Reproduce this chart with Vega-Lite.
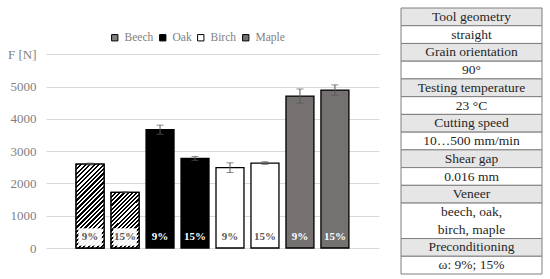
{
  "$schema": "https://vega.github.io/schema/vega-lite/v6.json",
  "padding": {"left": 7, "top": 7, "right": 0, "bottom": 0},
  "background": "white",
  "config": {"view": {"stroke": null}, "font": "Liberation Serif", "concat": {"spacing": 21}},
  "resolve": {"scale": {"fill": "independent", "x": "independent", "y": "independent"}, "legend": {"fill": "independent"}},
  "datasets": {
    "bars": [
      {"bar": "Beech 9%", "species": "Beech", "moisture": "9%", "value": 2600, "err": 30},
      {"bar": "Beech 15%", "species": "Beech", "moisture": "15%", "value": 1725, "err": 15},
      {"bar": "Oak 9%", "species": "Oak", "moisture": "9%", "value": 3665, "err": 140},
      {"bar": "Oak 15%", "species": "Oak", "moisture": "15%", "value": 2777, "err": 60},
      {"bar": "Birch 9%", "species": "Birch", "moisture": "9%", "value": 2489, "err": 150},
      {"bar": "Birch 15%", "species": "Birch", "moisture": "15%", "value": 2632, "err": 40},
      {"bar": "Maple 9%", "species": "Maple", "moisture": "9%", "value": 4706, "err": 220},
      {"bar": "Maple 15%", "species": "Maple", "moisture": "15%", "value": 4892, "err": 160}
    ],
    "table": [
      {"text": "Tool geometry", "kind": "h", "start": 0, "end": 1},
      {"text": "straight", "kind": "v", "start": 1, "end": 2},
      {"text": "Grain orientation", "kind": "h", "start": 2, "end": 3},
      {"text": "90°", "kind": "v", "start": 3, "end": 4},
      {"text": "Testing temperature", "kind": "h", "start": 4, "end": 5},
      {"text": "23 °C", "kind": "v", "start": 5, "end": 6},
      {"text": "Cutting speed", "kind": "h", "start": 6, "end": 7},
      {"text": "10…500 mm/min", "kind": "v", "start": 7, "end": 8},
      {"text": "Shear gap", "kind": "h", "start": 8, "end": 9},
      {"text": "0.016 mm", "kind": "v", "start": 9, "end": 10},
      {"text": "Veneer", "kind": "h", "start": 10, "end": 11},
      {"text": "beech, oak,\nbirch, maple", "kind": "v", "start": 11, "end": 13},
      {"text": "Preconditioning", "kind": "h", "start": 13, "end": 14},
      {"text": "ω: 9%; 15%", "kind": "v", "start": 14, "end": 15}
    ]
  },
  "hconcat": [
    {
      "width": 333,
      "height": 240,
      "data": {"name": "bars"},
      "encoding": {
        "x": {"field": "bar", "type": "nominal", "sort": null, "axis": null,
              "scale": {"paddingInner": 0.2, "paddingOuter": 0.86}},
        "y": {"field": "value", "type": "quantitative",
              "scale": {"domain": [0, 7435], "nice": false},
              "axis": {"values": [0, 1000, 2000, 3000, 4000, 5000, 6000], "format": "d",
                       "labelExpr": "datum.value == 6000 ? 'F [N]' : datum.label",
                       "grid": true, "gridColor": "#d9d9d9", "domain": false, "ticks": false,
                       "labelColor": "#7f7f7f", "labelFontSize": 13, "labelPadding": 10,
                       "labelFont": "Liberation Serif", "title": null}}
      },
      "layer": [
        {
          "mark": {"type": "bar", "stroke": "black", "strokeWidth": 1.3},
          "encoding": {
            "fill": {"field": "species", "type": "nominal",
                     "scale": {"domain": ["Beech", "Oak", "Birch", "Maple"],
                               "range": ["#808080", "#000000", "#ffffff", "#767171"]},
                     "legend": {"orient": "none", "legendX": 63, "legendY": 24, "direction": "horizontal",
                                "title": null, "symbolType": "square", "symbolSize": 40,
                                "symbolStrokeColor": "black", "symbolStrokeWidth": 1,
                                "labelColor": "#7f7f7f", "labelFontSize": 11.5, "labelFont": "Liberation Serif",
                                "columnPadding": 3, "labelOffset": 4, "gridAlign": "none",
                                "encode": {"symbols": {"update": {
                                  "stroke": {"value": "black"},
                                  "strokeWidth": {"value": 1}
                                }}}}}
          }
        },
        {
          "transform": [{"filter": "datum.bar == 'Beech 9%'"}],
          "mark": {"type": "bar", "stroke": "black", "strokeWidth": 1.3,
                   "fill": {"gradient": "linear", "x1": 0, "y1": 0, "x2": 0.4, "y2": 1.2,
                            "stops": [
                              {"offset": 0, "color": "#000"}, {"offset": 0.02, "color": "#000"},
                              {"offset": 0.02, "color": "#fff"}, {"offset": 0.04, "color": "#fff"},
                              {"offset": 0.04, "color": "#000"}, {"offset": 0.06, "color": "#000"},
                              {"offset": 0.06, "color": "#fff"}, {"offset": 0.08, "color": "#fff"},
                              {"offset": 0.08, "color": "#000"}, {"offset": 0.1, "color": "#000"},
                              {"offset": 0.1, "color": "#fff"}, {"offset": 0.12, "color": "#fff"},
                              {"offset": 0.12, "color": "#000"}, {"offset": 0.14, "color": "#000"},
                              {"offset": 0.14, "color": "#fff"}, {"offset": 0.16, "color": "#fff"},
                              {"offset": 0.16, "color": "#000"}, {"offset": 0.18, "color": "#000"},
                              {"offset": 0.18, "color": "#fff"}, {"offset": 0.2, "color": "#fff"},
                              {"offset": 0.2, "color": "#000"}, {"offset": 0.22, "color": "#000"},
                              {"offset": 0.22, "color": "#fff"}, {"offset": 0.24, "color": "#fff"},
                              {"offset": 0.24, "color": "#000"}, {"offset": 0.26, "color": "#000"},
                              {"offset": 0.26, "color": "#fff"}, {"offset": 0.28, "color": "#fff"},
                              {"offset": 0.28, "color": "#000"}, {"offset": 0.3, "color": "#000"},
                              {"offset": 0.3, "color": "#fff"}, {"offset": 0.32, "color": "#fff"},
                              {"offset": 0.32, "color": "#000"}, {"offset": 0.34, "color": "#000"},
                              {"offset": 0.34, "color": "#fff"}, {"offset": 0.36, "color": "#fff"},
                              {"offset": 0.36, "color": "#000"}, {"offset": 0.38, "color": "#000"},
                              {"offset": 0.38, "color": "#fff"}, {"offset": 0.4, "color": "#fff"},
                              {"offset": 0.4, "color": "#000"}, {"offset": 0.42, "color": "#000"},
                              {"offset": 0.42, "color": "#fff"}, {"offset": 0.44, "color": "#fff"},
                              {"offset": 0.44, "color": "#000"}, {"offset": 0.46, "color": "#000"},
                              {"offset": 0.46, "color": "#fff"}, {"offset": 0.48, "color": "#fff"},
                              {"offset": 0.48, "color": "#000"}, {"offset": 0.5, "color": "#000"},
                              {"offset": 0.5, "color": "#fff"}, {"offset": 0.52, "color": "#fff"},
                              {"offset": 0.52, "color": "#000"}, {"offset": 0.54, "color": "#000"},
                              {"offset": 0.54, "color": "#fff"}, {"offset": 0.56, "color": "#fff"},
                              {"offset": 0.56, "color": "#000"}, {"offset": 0.58, "color": "#000"},
                              {"offset": 0.58, "color": "#fff"}, {"offset": 0.6, "color": "#fff"},
                              {"offset": 0.6, "color": "#000"}, {"offset": 0.62, "color": "#000"},
                              {"offset": 0.62, "color": "#fff"}, {"offset": 0.64, "color": "#fff"},
                              {"offset": 0.64, "color": "#000"}, {"offset": 0.66, "color": "#000"},
                              {"offset": 0.66, "color": "#fff"}, {"offset": 0.68, "color": "#fff"},
                              {"offset": 0.68, "color": "#000"}, {"offset": 0.7, "color": "#000"},
                              {"offset": 0.7, "color": "#fff"}, {"offset": 0.72, "color": "#fff"},
                              {"offset": 0.72, "color": "#000"}, {"offset": 0.74, "color": "#000"},
                              {"offset": 0.74, "color": "#fff"}, {"offset": 0.76, "color": "#fff"},
                              {"offset": 0.76, "color": "#000"}, {"offset": 0.78, "color": "#000"},
                              {"offset": 0.78, "color": "#fff"}, {"offset": 0.8, "color": "#fff"},
                              {"offset": 0.8, "color": "#000"}, {"offset": 0.82, "color": "#000"},
                              {"offset": 0.82, "color": "#fff"}, {"offset": 0.84, "color": "#fff"},
                              {"offset": 0.84, "color": "#000"}, {"offset": 0.86, "color": "#000"},
                              {"offset": 0.86, "color": "#fff"}, {"offset": 0.88, "color": "#fff"},
                              {"offset": 0.88, "color": "#000"}, {"offset": 0.9, "color": "#000"},
                              {"offset": 0.9, "color": "#fff"}, {"offset": 0.92, "color": "#fff"},
                              {"offset": 0.92, "color": "#000"}, {"offset": 0.94, "color": "#000"},
                              {"offset": 0.94, "color": "#fff"}, {"offset": 0.96, "color": "#fff"},
                              {"offset": 0.96, "color": "#000"}, {"offset": 0.98, "color": "#000"},
                              {"offset": 0.98, "color": "#fff"}, {"offset": 1, "color": "#fff"}
                            ]}},
          "encoding": {}
        },
        {
          "transform": [{"filter": "datum.bar == 'Beech 15%'"}],
          "mark": {"type": "bar", "stroke": "black", "strokeWidth": 1.3,
                   "fill": {"gradient": "linear", "x1": 0, "y1": 0, "x2": 0.6, "y2": 1.2,
                            "stops": [
                              {"offset": 0, "color": "#000"}, {"offset": 0.025, "color": "#000"},
                              {"offset": 0.025, "color": "#fff"}, {"offset": 0.05, "color": "#fff"},
                              {"offset": 0.05, "color": "#000"}, {"offset": 0.075, "color": "#000"},
                              {"offset": 0.075, "color": "#fff"}, {"offset": 0.1, "color": "#fff"},
                              {"offset": 0.1, "color": "#000"}, {"offset": 0.125, "color": "#000"},
                              {"offset": 0.125, "color": "#fff"}, {"offset": 0.15, "color": "#fff"},
                              {"offset": 0.15, "color": "#000"}, {"offset": 0.175, "color": "#000"},
                              {"offset": 0.175, "color": "#fff"}, {"offset": 0.2, "color": "#fff"},
                              {"offset": 0.2, "color": "#000"}, {"offset": 0.225, "color": "#000"},
                              {"offset": 0.225, "color": "#fff"}, {"offset": 0.25, "color": "#fff"},
                              {"offset": 0.25, "color": "#000"}, {"offset": 0.275, "color": "#000"},
                              {"offset": 0.275, "color": "#fff"}, {"offset": 0.3, "color": "#fff"},
                              {"offset": 0.3, "color": "#000"}, {"offset": 0.325, "color": "#000"},
                              {"offset": 0.325, "color": "#fff"}, {"offset": 0.35, "color": "#fff"},
                              {"offset": 0.35, "color": "#000"}, {"offset": 0.375, "color": "#000"},
                              {"offset": 0.375, "color": "#fff"}, {"offset": 0.4, "color": "#fff"},
                              {"offset": 0.4, "color": "#000"}, {"offset": 0.425, "color": "#000"},
                              {"offset": 0.425, "color": "#fff"}, {"offset": 0.45, "color": "#fff"},
                              {"offset": 0.45, "color": "#000"}, {"offset": 0.475, "color": "#000"},
                              {"offset": 0.475, "color": "#fff"}, {"offset": 0.5, "color": "#fff"},
                              {"offset": 0.5, "color": "#000"}, {"offset": 0.525, "color": "#000"},
                              {"offset": 0.525, "color": "#fff"}, {"offset": 0.55, "color": "#fff"},
                              {"offset": 0.55, "color": "#000"}, {"offset": 0.575, "color": "#000"},
                              {"offset": 0.575, "color": "#fff"}, {"offset": 0.6, "color": "#fff"},
                              {"offset": 0.6, "color": "#000"}, {"offset": 0.625, "color": "#000"},
                              {"offset": 0.625, "color": "#fff"}, {"offset": 0.65, "color": "#fff"},
                              {"offset": 0.65, "color": "#000"}, {"offset": 0.675, "color": "#000"},
                              {"offset": 0.675, "color": "#fff"}, {"offset": 0.7, "color": "#fff"},
                              {"offset": 0.7, "color": "#000"}, {"offset": 0.725, "color": "#000"},
                              {"offset": 0.725, "color": "#fff"}, {"offset": 0.75, "color": "#fff"},
                              {"offset": 0.75, "color": "#000"}, {"offset": 0.775, "color": "#000"},
                              {"offset": 0.775, "color": "#fff"}, {"offset": 0.8, "color": "#fff"},
                              {"offset": 0.8, "color": "#000"}, {"offset": 0.825, "color": "#000"},
                              {"offset": 0.825, "color": "#fff"}, {"offset": 0.85, "color": "#fff"},
                              {"offset": 0.85, "color": "#000"}, {"offset": 0.875, "color": "#000"},
                              {"offset": 0.875, "color": "#fff"}, {"offset": 0.9, "color": "#fff"},
                              {"offset": 0.9, "color": "#000"}, {"offset": 0.925, "color": "#000"},
                              {"offset": 0.925, "color": "#fff"}, {"offset": 0.95, "color": "#fff"},
                              {"offset": 0.95, "color": "#000"}, {"offset": 0.975, "color": "#000"},
                              {"offset": 0.975, "color": "#fff"}, {"offset": 1, "color": "#fff"}
                            ]}},
          "encoding": {}
        },
        {
          "transform": [{"filter": "datum.species == 'Beech'"}],
          "mark": {"type": "bar", "fill": "white", "opacity": 0.95, "width": {"band": 0.84}},
          "encoding": {"y": {"datum": 70}, "y2": {"datum": 610}}
        },
        {
          "mark": {"type": "errorbar", "ticks": {"size": 7}, "color": "#595959", "thickness": 1},
          "encoding": {"y": {"field": "value", "type": "quantitative"}, "yError": {"field": "err"}}
        },
        {
          "mark": {"type": "text", "dy": -11, "fontSize": 11, "fontWeight": "bold", "font": "Liberation Serif", "baseline": "middle"},
          "encoding": {
            "y": {"datum": 0},
            "text": {"field": "moisture"},
            "color": {"condition": {"test": "datum.species == 'Oak' || datum.species == 'Maple'", "value": "#ffffff"}, "value": "#595959"}
          }
        }
      ]
    },
    {
      "width": 141,
      "height": 266,
      "data": {"name": "table"},
      "layer": [
        {
          "mark": {"type": "rect", "stroke": "#7f7f7f", "strokeWidth": 1},
          "encoding": {
            "x": {"datum": 0, "type": "quantitative", "scale": {"domain": [0, 1], "nice": false}, "axis": null},
            "x2": {"datum": 1},
            "y": {"field": "start", "type": "quantitative", "scale": {"domain": [0, 15], "reverse": true, "nice": false, "zero": false}, "axis": null},
            "y2": {"field": "end"},
            "fill": {"condition": {"test": "datum.kind == 'h'", "value": "#e7e6e6"}, "value": "#ffffff"}
          }
        },
        {
          "mark": {"type": "text", "fontSize": 13.5, "font": "Liberation Serif", "color": "#262626", "lineBreak": "\n", "lineHeight": 17.7, "baseline": "middle", "dy": 8.9},
          "encoding": {
            "x": {"datum": 0.5, "type": "quantitative"},
            "y": {"field": "start", "type": "quantitative"},
            "text": {"field": "text"}
          }
        }
      ]
    }
  ]
}
